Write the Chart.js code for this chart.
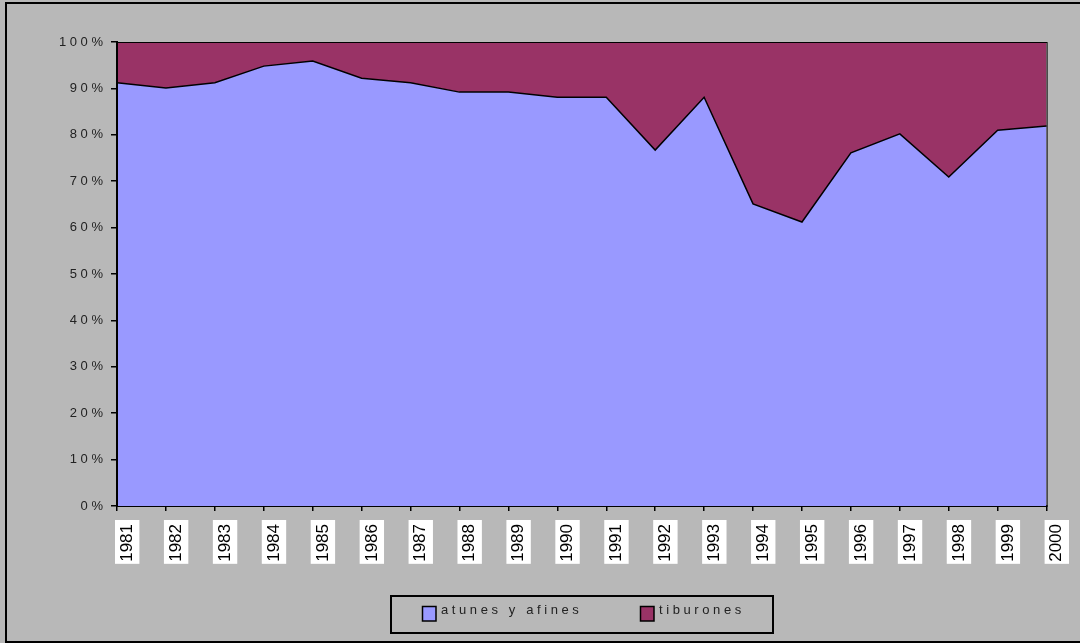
<!DOCTYPE html>
<html>
<head>
<meta charset="utf-8">
<script src="https://cdn.jsdelivr.net/npm/chart.js@4"></script>
<style>
  html, body { margin: 0; padding: 0; background: #b8b8b8; }
  #wrap { width: 1080px; height: 643px; position: relative; }
</style>
</head>
<body>
<div id="wrap"><canvas id="areaChart"></canvas></div>
<script>
const years = ['1981', '1982', '1983', '1984', '1985', '1986', '1987', '1988', '1989', '1990',
               '1991', '1992', '1993', '1994', '1995', '1996', '1997', '1998', '1999', '2000'];
const atunes = [91.2, 90.1, 91.2, 94.8, 95.9, 92.2, 91.2, 89.2, 89.2, 88.1,
                88.1, 76.7, 88.1, 65.1, 61.2, 76.1, 80.2, 70.9, 81.0, 81.9];
const tiburones = [8.8, 9.9, 8.8, 5.2, 4.1, 7.8, 8.8, 10.8, 10.8, 11.9,
                   11.9, 23.3, 11.9, 34.9, 38.8, 23.9, 19.8, 29.1, 19.0, 18.1];
const yTicks = [0, 10, 20, 30, 40, 50, 60, 70, 80, 90, 100];

const FONT = "'Liberation Sans', Arial, sans-serif";

// background, outer frame, plot frame and legend box
const excelLook = {
    id: 'excelLook',
    beforeDraw(chart) {
        const c = chart.ctx;
        c.save();
        c.fillStyle = '#b8b8b8';
        c.fillRect(0, 0, chart.width, chart.height);
        c.strokeStyle = '#000';
        c.lineWidth = 2;
        c.strokeRect(6, 3, chart.width + 10, chart.height - 4);
        c.restore();
    },
    afterDatasetsDraw(chart) {
        const a = chart.chartArea;
        const c = chart.ctx;
        c.save();
        c.strokeStyle = '#000';
        c.lineWidth = 1;
        c.strokeRect(a.left + 0.5, a.top + 0.5, a.right - a.left, a.bottom - a.top);
        c.restore();
    },
    afterDraw(chart) {
        const c = chart.ctx;
        c.save();
        c.strokeStyle = '#000';
        c.lineWidth = 2;
        c.strokeRect(391, 596, 382, 37);
        const items = [
            { x: 422, ds: chart.data.datasets[0] },
            { x: 640, ds: chart.data.datasets[1] }
        ];
        c.font = '13px ' + FONT;
        c.letterSpacing = '3.6px';
        c.textBaseline = 'alphabetic';
        items.forEach(it => {
            c.fillStyle = it.ds.backgroundColor;
            c.fillRect(it.x, 606, 14, 15);
            c.lineWidth = 1.5;
            c.strokeRect(it.x + 0.5, 606.5, 13.5, 14.5);
            c.fillStyle = '#222';
            c.fillText(it.ds.label, it.x + 19, 614);
        });
        c.restore();
    }
};

const ctx = document.getElementById('areaChart').getContext('2d');

new Chart(ctx, {
    type: 'line',
    data: {
        labels: years,
        datasets: [
            {
                label: 'atunes y afines',
                data: atunes,
                backgroundColor: '#9999ff',
                borderColor: '#000',
                borderWidth: 1.5,
                fill: 'origin',
                pointRadius: 0,
                tension: 0
            },
            {
                label: 'tiburones',
                data: tiburones,
                backgroundColor: '#993366',
                borderColor: '#000',
                borderWidth: 1,
                fill: '-1',
                pointRadius: 0,
                tension: 0
            }
        ]
    },
    options: {
        responsive: true,
        maintainAspectRatio: false,
        animation: false,
        layout: {
            padding: { left: 0, top: 42, right: 33, bottom: 57 }
        },
        plugins: {
            legend: { display: false },
            tooltip: { enabled: false }
        },
        scales: {
            x: {
                offset: false,
                z: 1,
                grid: {
                    drawOnChartArea: false,
                    tickLength: 5,
                    color: '#000',
                    lineWidth: 1.5
                },
                border: { display: true, color: '#000', width: 2 },
                ticks: {
                    minRotation: 90,
                    maxRotation: 90,
                    autoSkip: false,
                    padding: 13,
                    color: '#000',
                    font: { size: 17, family: FONT },
                    showLabelBackdrop: true,
                    backdropColor: '#fff',
                    backdropPadding: { top: 2, bottom: 2, left: 2, right: 4 }
                },
                afterFit(scale) { scale.height = 80; }
            },
            y: {
                stacked: true,
                min: 0,
                max: 100,
                z: 1,
                afterBuildTicks(scale) { scale.ticks = yTicks.map(v => ({ value: v })); },
                grid: {
                    drawOnChartArea: false,
                    tickLength: 6,
                    color: '#000',
                    lineWidth: 1.5
                },
                border: { display: true, color: '#000', width: 2 },
                ticks: {
                    padding: 8,
                    color: '#222',
                    font: { size: 13, family: FONT },
                    callback: v => (v + '%').split('').join(' ')
                },
                afterFit(scale) { scale.width = 117; }
            }
        }
    },
    plugins: [excelLook]
});
</script>
</body>
</html>
